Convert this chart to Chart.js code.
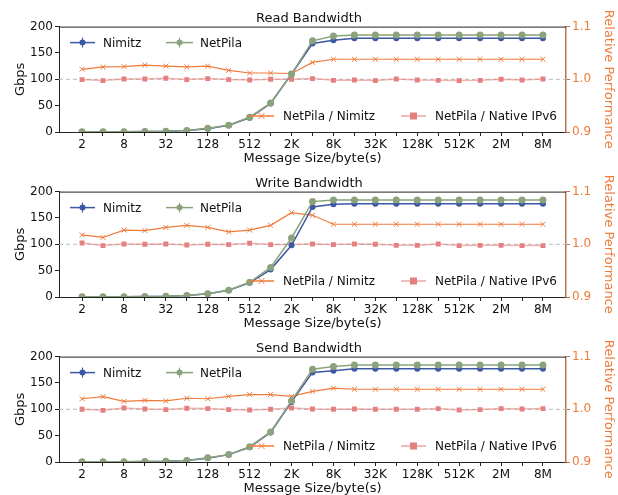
<!DOCTYPE html>
<html>
<head>
<meta charset="utf-8">
<script src="https://cdn.jsdelivr.net/npm/chart.js@4.4.0/dist/chart.umd.min.js"></script>
<style>
  body { margin: 0; background: #fff; }
  canvas { display: block; }
</style>
</head>
<body>
<canvas id="readChart" width="618" height="165"></canvas>
<canvas id="writeChart" width="618" height="165"></canvas>
<canvas id="sendChart" width="618" height="165"></canvas>
<script>
// message sizes 2^1 .. 2^23
const sizeLabels = ['2','4','8','16','32','64','128','256','512','1K','2K','4K','8K','16K','32K','64K','128K','256K','512K','1M','2M','4M','8M'];
const gbpsTicks = [0, 50, 100, 150, 200];

const readNimitz  = [0.3,0.5,0.7,1,1.5,3,6,13,27,54,110,168,174,178,178,178,178,178,178,178,178,178,178];
const readNetPila = [0.3,0.5,0.7,1,1.5,3,7,13,28,55,110,173,182,184,184,184,184,184,184,184,184,184,184];
const readVsNimitz = [1.019,1.0235,1.024,1.027,1.025,1.0235,1.025,1.017,1.012,1.012,1.011,1.032,1.038,1.038,1.038,1.038,1.038,1.038,1.038,1.038,1.038,1.038,1.038];
const readVsIPv6   = [0.9994,0.9975,1.0006,1.0006,1.0019,0.9994,1.0013,0.9994,0.9987,1.0,1.0,1.0013,0.998,0.9987,0.9975,1.0006,0.9987,0.998,0.9975,0.998,1.0,0.9987,1.0006];

const writeNimitz  = [0.3,0.5,0.7,1,1.5,3,6,13,27,52,98,171,176,177,177,177,177,177,177,177,177,177,177];
const writeNetPila = [0.3,0.5,0.7,1,1.5,3,6,13,28,56,112,181,184,184,184,184,184,184,184,184,184,184,184];
const writeVsNimitz = [1.018,1.013,1.027,1.026,1.032,1.036,1.032,1.0235,1.027,1.036,1.06,1.055,1.038,1.038,1.038,1.038,1.038,1.038,1.038,1.038,1.038,1.038,1.038];
const writeVsIPv6   = [1.0025,0.9975,1.0006,1.0,1.0006,0.9987,1.0,0.9994,1.0019,0.9994,0.9994,1.0006,0.9994,1.0006,1.0,0.998,0.998,1.0006,0.9975,0.998,0.998,0.9975,0.9975];

const sendNimitz  = [0.3,0.5,0.7,1,1.5,3,7,14,28,56,114,170,173,177,177,177,177,177,177,177,177,177,177];
const sendNetPila = [0.3,0.5,0.7,1,1.5,3,8,14,29,57,116,176,181,184,184,184,184,184,184,184,184,184,184];
const sendVsNimitz = [1.020,1.024,1.015,1.017,1.016,1.021,1.020,1.0245,1.028,1.028,1.0245,1.034,1.040,1.038,1.038,1.038,1.038,1.038,1.038,1.038,1.038,1.038,1.038];
const sendVsIPv6   = [1.0,0.998,1.0025,1.0006,0.9994,1.0019,1.0013,0.9994,0.9987,1.0,1.0025,1.0006,1.0,1.0006,1.0,1.0,1.0,1.0013,0.9987,0.9994,1.0013,1.0006,1.0013];

const BLUE = '#3c57a3', GREEN = '#8ba27c', ORANGE = '#ef7b3a', RED = '#e58080', BROWN = '#b27655';
const FONT = 'DejaVu Sans';

function pts(arr) {
  return arr.map((v, i) => ({ x: i + 1, y: v }));
}

// extra drawing: top spine, dashed 1.0 line, two in-plot legends
const extras = {
  id: 'extras',
  beforeDatasetsDraw(chart) {
    const { ctx, chartArea: a } = chart;
    const y = chart.scales.y1.getPixelForValue(1.0);
    ctx.save();
    ctx.strokeStyle = '#bbbbbb';
    ctx.lineWidth = 1;
    ctx.setLineDash([4, 3]);
    ctx.beginPath(); ctx.moveTo(a.left, y); ctx.lineTo(a.right, y); ctx.stroke();
    ctx.restore();
  },
  afterDraw(chart) {
    const { ctx, chartArea: a } = chart;
    ctx.save();
    ctx.strokeStyle = '#222'; ctx.lineWidth = 1;
    ctx.beginPath(); ctx.moveTo(a.left, a.top + 0.5); ctx.lineTo(a.right, a.top + 0.5); ctx.stroke();

    ctx.font = '12px ' + FONT;
    ctx.fillStyle = '#111';
    ctx.textBaseline = 'middle';
    function entry(x0, x1, y, color, kind, text, tx, alpha) {
      ctx.globalAlpha = alpha || 1;
      ctx.strokeStyle = color; ctx.lineWidth = 1.5;
      ctx.beginPath(); ctx.moveTo(x0, y); ctx.lineTo(x1, y); ctx.stroke();
      ctx.globalAlpha = 1;
      const cx = (x0 + x1) / 2;
      ctx.fillStyle = color;
      if (kind === 'dot') {
        ctx.beginPath(); ctx.arc(cx, y, 3, 0, Math.PI * 2); ctx.fill();
        ctx.beginPath(); ctx.moveTo(cx, y - 5); ctx.lineTo(cx, y + 5); ctx.lineWidth = 1; ctx.stroke();
      } else if (kind === 'cross') {
        ctx.lineWidth = 1;
        ctx.beginPath();
        ctx.moveTo(cx - 3, y - 3); ctx.lineTo(cx + 3, y + 3);
        ctx.moveTo(cx + 3, y - 3); ctx.lineTo(cx - 3, y + 3);
        ctx.stroke();
      } else {
        ctx.fillRect(cx - 3.5, y - 3.5, 7, 7);
      }
      ctx.fillStyle = '#111';
      ctx.fillText(text, tx, y + 1);
    }
    const yt = a.top + 16, yb = a.bottom - 16;
    entry(a.left + 11, a.left + 36, yt, BLUE, 'dot', 'Nimitz', a.left + 44);
    entry(a.left + 107, a.left + 134, yt, GREEN, 'dot', 'NetPila', a.left + 141);
    entry(a.left + 190, a.left + 215, yb, ORANGE, 'cross', 'NetPila / Nimitz', a.left + 224);
    entry(a.left + 342, a.left + 367, yb, RED, 'square', 'NetPila / Native IPv6', a.left + 376, 0.7);
    ctx.restore();
  }
};

function makeChart(id, title, nimitz, netpila, vsNimitz, vsIPv6) {
  return new Chart(document.getElementById(id), {
    type: 'line',
    data: {
      datasets: [
        { label: 'Nimitz', data: pts(nimitz), yAxisID: 'y', borderColor: BLUE, backgroundColor: BLUE,
          borderWidth: 1.5, pointRadius: 3, pointBorderWidth: 0, order: 1 },
        { label: 'NetPila', data: pts(netpila), yAxisID: 'y', borderColor: GREEN, backgroundColor: GREEN,
          borderWidth: 1.5, pointRadius: 3.5, pointBorderWidth: 0, order: 0 },
        { label: 'NetPila / Nimitz', data: pts(vsNimitz), yAxisID: 'y1', borderColor: ORANGE, backgroundColor: ORANGE,
          borderWidth: 1.2, pointStyle: 'crossRot', pointRadius: 3.5, pointBorderWidth: 1, order: 2 },
        { label: 'NetPila / Native IPv6', data: pts(vsIPv6), yAxisID: 'y1', borderColor: 'rgba(229,128,128,0.6)',
          backgroundColor: RED, pointBorderColor: RED,
          borderWidth: 1.5, pointStyle: 'rect', pointRadius: 3.5, pointBorderWidth: 0, order: 3 }
      ]
    },
    options: {
      responsive: false,
      animation: false,
      maintainAspectRatio: false,
      layout: { padding: { top: 0, bottom: 0, left: 0, right: 0 } },
      plugins: {
        legend: { display: false },
        tooltip: { enabled: false },
        title: { display: true, text: title, color: '#111', font: { family: FONT, size: 13, weight: 'normal' },
          padding: { top: 11, bottom: 0 } }
      },
      scales: {
        x: {
          type: 'linear', min: -0.1, max: 24.1,
          afterBuildTicks: s => { s.ticks = sizeLabels.map((_, i) => ({ value: i + 1 })); },
          afterFit: s => { s.height = 33; },
          ticks: { autoSkip: false, maxRotation: 0, color: '#111', padding: 2, font: { family: FONT, size: 12 },
            callback: v => (v % 2 === 1 ? sizeLabels[v - 1] : '') },
          grid: { drawOnChartArea: false, tickLength: 4, color: '#222' },
          border: { color: '#222', width: 1 },
          title: { display: true, text: 'Message Size/byte(s)', color: '#111', font: { family: FONT, size: 13 }, padding: { top: 0, bottom: -1 } }
        },
        y: {
          position: 'left', min: 0, max: 200,
          afterBuildTicks: s => { s.ticks = gbpsTicks.map(v => ({ value: v })); },
          afterFit: s => { s.width = 59; },
          ticks: { color: '#111', padding: 2, font: { family: FONT, size: 12 } },
          grid: { drawOnChartArea: false, tickLength: 4, color: '#222' },
          border: { color: '#222', width: 1 },
          title: { display: true, text: 'Gbps', color: '#111', font: { family: FONT, size: 13 }, padding: { top: 13, bottom: 0 } }
        },
        y1: {
          position: 'right', min: 0.9, max: 1.1,
          afterBuildTicks: s => { s.ticks = [0.9, 1.0, 1.1].map(v => ({ value: v })); },
          afterFit: s => { s.width = 52; },
          ticks: { color: ORANGE, padding: 2, font: { family: FONT, size: 12 }, callback: v => Number(v).toFixed(1) },
          grid: { drawOnChartArea: false, tickLength: 4, color: BROWN },
          border: { color: BROWN, width: 1.5 },
          title: { display: true, text: 'Relative Performance', color: ORANGE, font: { family: FONT, size: 13 }, padding: { top: 2, bottom: 0 } }
        }
      }
    },
    plugins: [extras]
  });
}

makeChart('readChart', 'Read Bandwidth', readNimitz, readNetPila, readVsNimitz, readVsIPv6);
makeChart('writeChart', 'Write Bandwidth', writeNimitz, writeNetPila, writeVsNimitz, writeVsIPv6);
makeChart('sendChart', 'Send Bandwidth', sendNimitz, sendNetPila, sendVsNimitz, sendVsIPv6);
</script>
</body>
</html>
